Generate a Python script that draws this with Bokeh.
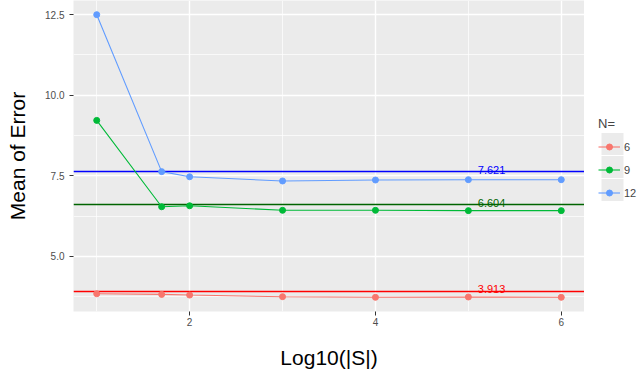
from bokeh.plotting import figure
from bokeh.layouts import row
from bokeh.models import Range1d, FixedTicker, PrintfTickFormatter, Legend, LegendItem
from bokeh.core.properties import value
from bokeh.embed import file_html
from bokeh.resources import INLINE

# ---- data ----
log_s = [1, 1.699, 2, 3, 4, 5, 6]
n_labels = ["6", "9", "12"]
err_6 = [3.84, 3.82, 3.80, 3.75, 3.73, 3.74, 3.73]
err_9 = [9.22, 6.54, 6.57, 6.43, 6.43, 6.42, 6.42]
err_12 = [12.50, 7.63, 7.47, 7.34, 7.37, 7.38, 7.38]
mean_vals = [3.913, 6.604, 7.621]
x_ticks = [2, 4, 6]
x_minor = [1, 3, 5]
y_ticks = [5.0, 7.5, 10.0, 12.5]
y_minor = [3.75, 6.25, 8.75, 11.25]

series_colors = ["#F8766D", "#00BA38", "#619CFF"]
mean_line_colors = ["#FF0000", "#006400", "#0000FF"]
mean_text_colors = ["#FF0000", "#006400", "#0000FF"]
FONT = "Liberation Sans"

FRAME_H, BOTTOM = 311, 64

p = figure(frame_width=511, frame_height=FRAME_H, output_backend="svg", toolbar_location=None,
           x_range=Range1d(0.75, 6.25), y_range=Range1d(3.29, 12.94),
           min_border_left=73, min_border_right=0, min_border_top=0, min_border_bottom=BOTTOM)
p.background_fill_color = "#EBEBEB"
p.border_fill_color = "white"
p.outline_line_color = None

p.xaxis.ticker = FixedTicker(ticks=x_ticks, minor_ticks=x_minor)
p.yaxis.ticker = FixedTicker(ticks=y_ticks, minor_ticks=y_minor)
p.yaxis.formatter = PrintfTickFormatter(format="%.1f")

for g in (p.xgrid, p.ygrid):
    g.grid_line_color = "white"
    g.grid_line_width = 1.4
    g.minor_grid_line_color = "white"
    g.minor_grid_line_width = 0.7

for ax in (p.xaxis, p.yaxis):
    ax.axis_line_color = None
    ax.major_tick_line_color = "#333333"
    ax.major_tick_out = 4
    ax.major_tick_in = 0
    ax.minor_tick_line_color = None
    ax.major_label_text_font = FONT
    ax.major_label_text_font_size = "10px"
    ax.major_label_text_color = "#4D4D4D"
    ax.axis_label_text_font = FONT
    ax.axis_label_text_font_size = "21px"
    ax.axis_label_text_font_style = "normal"
    ax.axis_label_text_color = "black"

p.xaxis.major_label_standoff = 2
p.yaxis.major_label_standoff = 5
p.xaxis.axis_label = "Log10(|S|)"
p.yaxis.axis_label = "Mean of Error"
p.xaxis.axis_label_standoff = 17
p.yaxis.axis_label_standoff = 13

# mean reference lines
p.hspan(y=mean_vals, line_color=mean_line_colors, line_width=1.4)
p.text(x=[5.25] * 3, y=mean_vals, text=[f"{m:.3f}" for m in mean_vals],
       text_color=mean_text_colors, text_align="center", text_baseline="alphabetic",
       text_font=value(FONT), text_font_size="11px", y_offset=-2)

for lab, ys, c in zip(n_labels, [err_6, err_9, err_12], series_colors):
    p.line(log_s, ys, line_color=c, line_width=1.1)
    p.scatter(log_s, ys, size=6, fill_color=c, line_color=c)

# ---- legend panel (separate small figure; its frame is aligned with the main frame) ----
LW = 56
pl = figure(frame_width=LW, frame_height=FRAME_H, output_backend="svg", toolbar_location=None,
            x_range=Range1d(0, LW), y_range=Range1d(0, FRAME_H),
            min_border=0, min_border_bottom=BOTTOM,
            x_axis_location=None, y_axis_location=None)
pl.xgrid.visible = False
pl.ygrid.visible = False
pl.outline_line_color = None
pl.background_fill_color = "white"
pl.border_fill_color = "white"

KEY_X, KEY_W, KEY_BOX, GLYPH_H, PAD, PITCH = 17, 22, 22, 15, 3, 23
LEG_BOTTOM = 111  # pixels above the frame bottom
nk = len(n_labels)
centers = [LEG_BOTTOM + PAD + i * PITCH + GLYPH_H / 2 for i in range(nk)]
pl.quad(left=[KEY_X] * nk, right=[KEY_X + KEY_W] * nk,
        bottom=[c - KEY_BOX / 2 for c in centers], top=[c + KEY_BOX / 2 for c in centers],
        fill_color="#EBEBEB", line_color=None)

nan = float("nan")
items = []
for lab, c in zip(n_labels, series_colors):
    lr = pl.line(x=[nan, nan], y=[nan, nan], line_color=c, line_width=1.1)
    cr = pl.scatter(x=[nan], y=[nan], size=6, fill_color=c, line_color=c)
    items.append(LegendItem(label=lab, renderers=[lr, cr]))

legend = Legend(items=items, title="N=", location=(KEY_X - PAD, LEG_BOTTOM),
                border_line_color=None, background_fill_alpha=0,
                title_text_font=FONT, title_text_font_size="13px",
                title_text_font_style="normal",
                label_text_font=FONT, label_text_font_size="11px",
                glyph_width=KEY_W, glyph_height=GLYPH_H, label_standoff=4,
                spacing=PITCH - GLYPH_H, padding=PAD, margin=0, title_standoff=8)
pl.add_layout(legend)

layout = row(p, pl)
open("out.html", "w").write(file_html(layout, INLINE))
